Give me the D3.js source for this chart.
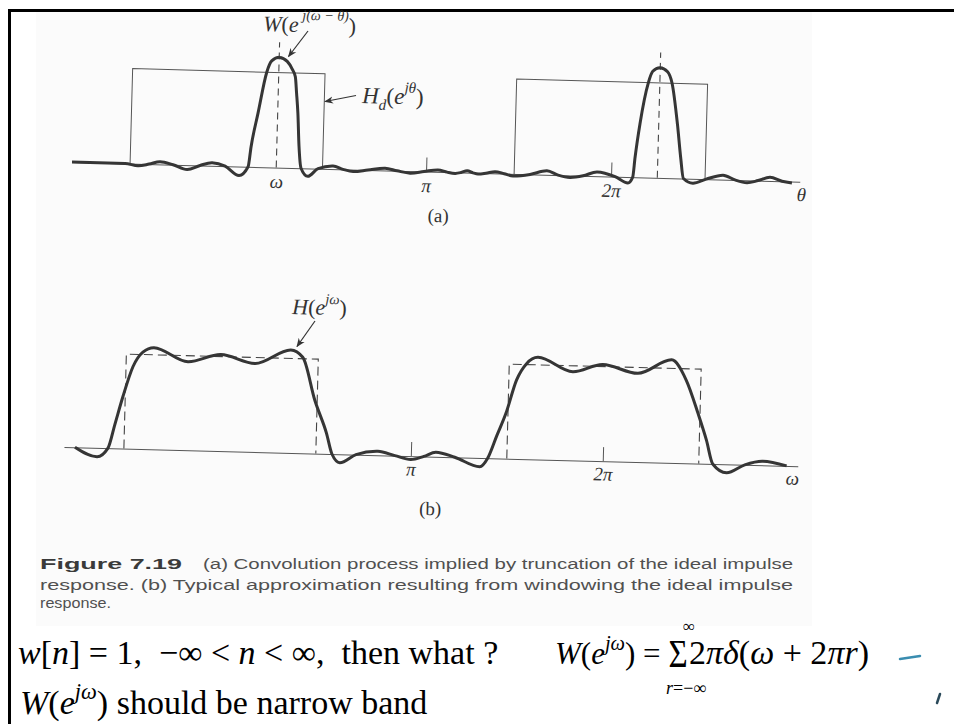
<!DOCTYPE html>
<html>
<head>
<meta charset="utf-8">
<script src="https://cdn.jsdelivr.net/npm/d3@7"></script>
<style>
  body { margin: 0; background: #fff; }
  svg { display: block; }
</style>
</head>
<body>
<svg id="chart" width="954" height="724"></svg>
<script>
// ---- panel (a): theta axis in units of pi, amplitude relative to ideal band (=1)
const axisA       = [-0.914, 3.02];
const tickValsA   = [0.19, 1, 2];
const tickLabsA   = ['ω', 'π', '2π'];
const peakMarksA  = [0.19, 2.25];          // dashed lines through W peaks
const peakMarkTop = 1.32;
const bandsA      = [[-0.60, 0.44], [1.476, 2.508]];
const wCurve = [
  [-0.914,0],[-0.627,0],[-0.557,-0.021],[-0.497,0],[-0.438,0.028],[-0.368,0],
  [-0.291,-0.047],[-0.222,0],[-0.157,0.032],[-0.086,0],[-0.010,-0.095],[0.038,0],
  [0.051,0.21],[0.084,0.57],[0.125,1.0],[0.150,1.12],[0.192,1.16],[0.234,1.12],
  [0.262,1.04],[0.280,0.96],[0.289,0.79],[0.299,0.58],[0.310,0.23],[0.324,0],
  [0.362,-0.084],[0.416,0],[0.497,0.032],[0.551,0],[0.606,-0.021],[0.686,0],
  [0.778,0.023],[0.843,0],[0.914,-0.021],[0.989,0],[1.064,0.021],[1.114,0],
  [1.157,-0.011],[1.189,0],[1.222,0.021],[1.254,0],[1.281,-0.011],[1.324,0],
  [1.373,0.019],[1.422,0],[1.470,-0.021],[1.562,0],[1.653,0.042],[1.714,0],
  [1.778,-0.021],[1.849,0],[1.924,0.045],[2.022,0],[2.092,-0.063],[2.117,0],
  [2.127,0.21],[2.149,0.57],[2.188,1.0],[2.210,1.12],[2.249,1.16],[2.290,1.12],
  [2.316,1.0],[2.351,0.57],[2.374,0.21],[2.391,0],[2.443,-0.047],[2.514,0],
  [2.605,0.047],[2.670,0],[2.735,-0.026],[2.795,0],[2.859,0.037],[2.924,0],
  [2.978,-0.016]
];

// ---- panel (b): omega axis in units of pi
const axisB     = [-0.807, 3.016];
const tickValsB = [1, 2];
const tickLabsB = ['π', '2π'];
const bandsB    = [[-0.495, 0.505], [1.5, 2.5]];
const hCurve = [
  [-0.750,0],[-0.634,-0.095],[-0.578,0],[-0.545,0.254],[-0.507,0.55],[-0.459,0.868],
  [-0.409,1.026],[-0.352,1.076],[-0.173,0.936],[-0.003,1.021],[0.176,0.936],
  [0.361,1.09],[0.424,1.016],[0.493,0.561],[0.558,0.217],[0.589,0],[0.631,-0.09],
  [0.714,0],[0.828,0.042],[0.917,0],[1.0,-0.037],[1.068,0],[1.130,0.048],[1.229,0],
  [1.360,-0.095],[1.401,0],[1.445,0.24],[1.489,0.476],[1.540,0.833],[1.590,1.01],
  [1.649,1.08],[1.832,0.936],[1.987,1.021],[2.170,0.938],[2.345,1.09],[2.424,0.878],
  [2.490,0.529],[2.537,0.25],[2.573,0],[2.646,-0.09],[2.740,0],[2.833,0.042],[2.958,0]
];

// ---- caption + notes
const captionBold  = 'Figure 7.19';
const captionLines = [
  '(a) Convolution process implied by truncation of the ideal impulse',
  'response. (b) Typical approximation resulting from windowing the ideal impulse',
  'response.'
];

const SERIF = "'Liberation Serif','Times New Roman',serif";
const NARROW = "'Liberation Sans Narrow','Arial Narrow','Liberation Sans',sans-serif";
const INK = '#333';

const svg = d3.select('#chart');

// math-ish text with italic / sup / sub tspans
function mathText(sel, x, y, size, parts, fill, supRise) {
  const rise = supRise || 0.42;
  const t = sel.append('text')
    .attr('x', x).attr('y', y)
    .attr('font-family', SERIF).attr('font-size', size)
    .attr('fill', fill || INK)
    .style('white-space', 'pre');
  let shift = 0;
  parts.forEach(p => {
    const s = t.append('tspan').text(p.t);
    if (p.i) s.attr('font-style', 'italic');
    const target = p.sup ? -size * rise : p.sub ? size * 0.28 : 0;
    if (target !== shift) { s.attr('dy', target - shift); shift = target; }
    if (p.sup || p.sub) s.attr('font-size', size * 0.66);
    if (p.len) s.attr('textLength', p.len).attr('lengthAdjust', 'spacingAndGlyphs');
  });
  return t;
}

// arrow marker
svg.append('defs').append('marker')
  .attr('id', 'arr').attr('viewBox', '0 0 10 10')
  .attr('refX', 9).attr('refY', 5)
  .attr('markerWidth', 9).attr('markerHeight', 9)
  .attr('markerUnits', 'userSpaceOnUse')
  .attr('orient', 'auto')
  .append('path').attr('d', 'M0,1 L10,5 L0,9 L3,5 Z').attr('fill', INK);

// scanned page tint
svg.append('rect').attr('x', 36).attr('y', 12).attr('width', 776).attr('height', 614)
  .attr('fill', '#fbfbfb');

// slide frame
svg.append('line').attr('x1', 8).attr('y1', 10.5).attr('x2', 954).attr('y2', 10.5)
  .attr('stroke', '#000').attr('stroke-width', 3);
svg.append('line').attr('x1', 9.5).attr('y1', 9).attr('x2', 9.5).attr('y2', 724)
  .attr('stroke', '#000').attr('stroke-width', 3);

// ============ panel (a) ============
const xA = d3.scaleLinear().domain(axisA).range([72, 800]);
const yA = d3.scaleLinear().domain([0, 1]).range([162, 67]);
const gA = svg.append('g').attr('transform', 'rotate(1.55,72,162)');

gA.append('g')
  .attr('transform', `translate(0,${yA(0)})`)
  .call(d3.axisBottom(xA).tickValues(tickValsA).tickSize(-14).tickSizeOuter(0).tickPadding(7)
    .tickFormat((d, i) => tickLabsA[i]))
  .call(g => {
    g.select('.domain').attr('stroke', '#555').attr('stroke-width', 1);
    g.selectAll('.tick line').attr('stroke', '#555').attr('y2', d => d === tickValsA[0] ? 0 : -14);
    g.selectAll('.tick text').attr('font-family', SERIF).attr('font-size', 19)
      .attr('font-style', 'italic').attr('fill', INK);
  });

gA.append('text').attr('x', xA(axisA[1]) + 2).attr('y', yA(0) + 19.5)
  .attr('text-anchor', 'middle').attr('font-family', SERIF).attr('font-size', 19)
  .attr('font-style', 'italic').attr('fill', INK).text('θ');

gA.selectAll('path.band').data(bandsA).join('path')
  .attr('class', 'band')
  .attr('d', d => `M${xA(d[0])},${yA(0)}V${yA(1)}H${xA(d[1])}V${yA(0)}`)
  .attr('fill', 'none').attr('stroke', '#555').attr('stroke-width', 1);

gA.selectAll('line.peak').data(peakMarksA).join('line')
  .attr('class', 'peak')
  .attr('x1', d => xA(d)).attr('x2', d => xA(d))
  .attr('y1', yA(0)).attr('y2', yA(peakMarkTop))
  .attr('stroke', '#444').attr('stroke-width', 1.1).attr('stroke-dasharray', '7,5');

gA.append('path').datum(wCurve)
  .attr('d', d3.line().x(d => xA(d[0])).y(d => yA(d[1])).curve(d3.curveMonotoneX))
  .attr('fill', 'none').attr('stroke', '#353535').attr('stroke-width', 3)
  .attr('stroke-linejoin', 'round');

// labels (a)
const lblW = svg.append('g').attr('transform', 'rotate(1.5,263,31)');
mathText(lblW, 263, 31, 22, [
  {t: 'W', i: true}, {t: '('}, {t: 'e', i: true}, {t: ' j(ω − θ)', i: true, sup: true, len: 50}, {t: ')'}
], INK, 0.56);
svg.append('line').attr('x1', 308).attr('y1', 31).attr('x2', 288.5).attr('y2', 56.5)
  .attr('stroke', INK).attr('stroke-width', 1.2).attr('marker-end', 'url(#arr)');

const lblHd = svg.append('g').attr('transform', 'rotate(1.5,362,103)');
mathText(lblHd, 362, 103, 23, [
  {t: 'H', i: true}, {t: 'd', i: true, sub: true}, {t: '('}, {t: 'e', i: true},
  {t: 'jθ', i: true, sup: true}, {t: ')'}
], INK, 0.5);
svg.append('line').attr('x1', 356).attr('y1', 95.5).attr('x2', 325).attr('y2', 101.5)
  .attr('stroke', INK).attr('stroke-width', 1.2).attr('marker-end', 'url(#arr)');

svg.append('text').attr('x', 438).attr('y', 222).attr('text-anchor', 'middle')
  .attr('transform', 'rotate(1.5,438,222)')
  .attr('font-family', SERIF).attr('font-size', 19).attr('fill', INK).text('(a)');

// ============ panel (b) ============
const xB = d3.scaleLinear().domain(axisB).range([64, 798]);
const yB = d3.scaleLinear().domain([0, 1]).range([447, 352.5]);
const gB = svg.append('g').attr('transform', 'rotate(1.5,64,447)');

gB.append('g')
  .attr('transform', `translate(0,${yB(0)})`)
  .call(d3.axisBottom(xB).tickValues(tickValsB).tickSize(-14).tickSizeOuter(0).tickPadding(6)
    .tickFormat((d, i) => tickLabsB[i]))
  .call(g => {
    g.select('.domain').attr('stroke', '#555').attr('stroke-width', 1);
    g.selectAll('.tick line').attr('stroke', '#555');
    g.selectAll('.tick text').attr('font-family', SERIF).attr('font-size', 19)
      .attr('font-style', 'italic').attr('fill', INK);
  });

gB.append('text').attr('x', xB(axisB[1]) - 5).attr('y', yB(0) + 18.5)
  .attr('text-anchor', 'middle').attr('font-family', SERIF).attr('font-size', 19)
  .attr('font-style', 'italic').attr('fill', INK).text('ω');

gB.selectAll('path.band').data(bandsB).join('path')
  .attr('class', 'band')
  .attr('d', d => `M${xB(d[0])},${yB(0)}V${yB(1)}H${xB(d[1])}V${yB(0)}`)
  .attr('fill', 'none').attr('stroke', '#444').attr('stroke-width', 1.1)
  .attr('stroke-dasharray', '9,5');

gB.append('path').datum(hCurve)
  .attr('d', d3.line().x(d => xB(d[0])).y(d => yB(d[1])).curve(d3.curveMonotoneX))
  .attr('fill', 'none').attr('stroke', '#353535').attr('stroke-width', 3)
  .attr('stroke-linejoin', 'round');

const lblH = svg.append('g').attr('transform', 'rotate(1.5,292,314)');
mathText(lblH, 292, 314, 22, [
  {t: 'H', i: true}, {t: '('}, {t: 'e', i: true}, {t: 'jω', i: true, sup: true}, {t: ')'}
], INK, 0.5);
svg.append('line').attr('x1', 315).attr('y1', 321).attr('x2', 297).attr('y2', 346.5)
  .attr('stroke', INK).attr('stroke-width', 1.2).attr('marker-end', 'url(#arr)');

svg.append('text').attr('x', 430).attr('y', 515).attr('text-anchor', 'middle')
  .attr('transform', 'rotate(1.5,430,515)')
  .attr('font-family', SERIF).attr('font-size', 19).attr('fill', INK).text('(b)');

// ============ caption ============
const cap = svg.append('g')
  .attr('font-family', NARROW).attr('font-size', 15.5).attr('fill', '#505050');
const l1 = cap.append('text').attr('x', 40).attr('y', 569);
l1.append('tspan').attr('font-weight', 'bold').attr('fill', '#3a3a3a')
  .attr('textLength', 142).attr('lengthAdjust', 'spacingAndGlyphs').text(captionBold);
l1.append('tspan').attr('x', 203)
  .attr('textLength', 590).attr('lengthAdjust', 'spacingAndGlyphs').text(captionLines[0]);
cap.append('text').attr('x', 40).attr('y', 590)
  .attr('textLength', 753).attr('lengthAdjust', 'spacingAndGlyphs').text(captionLines[1]);
cap.append('text').attr('x', 40).attr('y', 608)
  .attr('textLength', 71).attr('lengthAdjust', 'spacingAndGlyphs').text(captionLines[2]);

// ============ notes below ============
mathText(svg, 18, 664, 34, [
  {t: 'w', i: true}, {t: '['}, {t: 'n', i: true}, {t: '] = 1,  −∞ < '}, {t: 'n', i: true},
  {t: ' < ∞,  then what ?'}
], '#000');
mathText(svg, 555, 664, 31, [
  {t: 'W', i: true}, {t: '('}, {t: 'e', i: true}, {t: 'jω', i: true, sup: true}, {t: ') ='}
], '#000', 0.45);
svg.append('text').attr('transform', 'translate(678,667) scale(1,1.2)')
  .attr('text-anchor', 'middle').attr('font-family', SERIF).attr('font-size', 33).text('Σ');
svg.append('text').attr('x', 689).attr('y', 632).attr('text-anchor', 'middle')
  .attr('font-family', SERIF).attr('font-size', 17).text('∞');
mathText(svg, 666, 694, 18, [{t: 'r', i: true}, {t: '=−∞'}], '#000');
mathText(svg, 689, 664, 34, [
  {t: '2'}, {t: 'πδ', i: true}, {t: '('}, {t: 'ω', i: true}, {t: ' + 2'}, {t: 'πr', i: true}, {t: ')'}
], '#000');
mathText(svg, 20, 714, 34, [
  {t: 'W', i: true}, {t: '('}, {t: 'e', i: true}, {t: 'jω', i: true, sup: true}, {t: ') should be narrow band'}
], '#000', 0.45);

// small leftover slide marks
svg.append('line').attr('x1', 900).attr('y1', 659).attr('x2', 920).attr('y2', 656)
  .attr('stroke', '#3a8db0').attr('stroke-width', 2.5).attr('stroke-linecap', 'round');
svg.append('line').attr('x1', 937).attr('y1', 703).attr('x2', 940).attr('y2', 694)
  .attr('stroke', '#2b4a5a').attr('stroke-width', 2.5).attr('stroke-linecap', 'round');
</script>
</body>
</html>
